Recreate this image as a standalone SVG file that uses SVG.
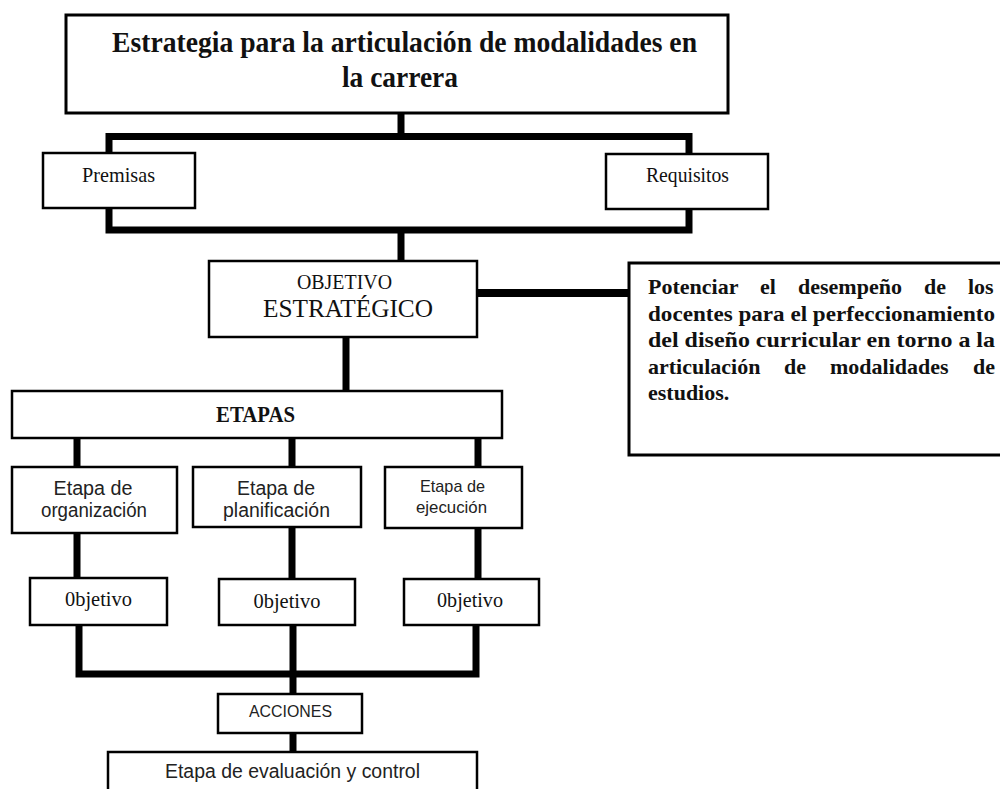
<svg xmlns="http://www.w3.org/2000/svg" width="1000" height="789" viewBox="0 0 1000 789">
<style>
.box{fill:#fff;stroke:#000;stroke-width:2.5}
.tbox{fill:#fff;stroke:#000;stroke-width:3}
.con{fill:none;stroke:#000;stroke-width:7;stroke-linejoin:miter;stroke-linecap:butt}
.serif{font-family:"Liberation Serif","Times New Roman",serif;fill:#111}
.sans{font-family:"Liberation Sans",Arial,sans-serif;fill:#222}
.b{font-weight:bold}
.m{text-anchor:middle}
.p{font-family:"Liberation Serif","Times New Roman",serif;font-weight:bold;font-size:22px;fill:#111}
.e{text-anchor:end}
</style>
<rect width="1000" height="789" fill="#fff"/>
<g id="connectors">
<path class="con" d="M401 113 V137"/>
<path class="con" d="M109 230 V136.5 H689 V230 Z"/>
<path class="con" d="M401 230 V262"/>
<path class="con" d="M346 337 V392"/>
<path class="con" style="stroke-width:8" d="M477 293 H630"/>
<path class="con" d="M77 438 V468 M292 438 V468 M478 438 V468"/>
<path class="con" d="M77 533 V579 M292 527 V580 M478 528 V580"/>
<path class="con" d="M79 625 V674 H476 V625"/>
<path class="con" d="M293 625 V695"/>
<path class="con" d="M293 733 V753"/>
</g>
<g id="title">
<rect class="tbox" x="66" y="15" width="662" height="98"/>
<text class="serif b m" x="404.5" y="52" font-size="30" textLength="585" lengthAdjust="spacingAndGlyphs">Estrategia para la articulación de modalidades en</text>
<text class="serif b m" x="400" y="87" font-size="30" textLength="116" lengthAdjust="spacingAndGlyphs">la carrera</text>
</g>
<g id="premisas">
<rect class="box" x="43" y="153" width="152" height="55"/>
<text class="serif m" x="118.5" y="182" font-size="21" textLength="73" lengthAdjust="spacingAndGlyphs">Premisas</text>
</g>
<g id="requisitos">
<rect class="box" x="606" y="154" width="162" height="55"/>
<text class="serif m" x="687.5" y="182" font-size="21" textLength="83" lengthAdjust="spacingAndGlyphs">Requisitos</text>
</g>
<g id="objetivo-estrategico">
<rect class="box" x="209" y="261" width="268" height="76"/>
<text class="serif m" x="344.5" y="289" font-size="21" textLength="95" lengthAdjust="spacingAndGlyphs">OBJETIVO</text>
<text class="serif m" x="348" y="317" font-size="25" textLength="170" lengthAdjust="spacingAndGlyphs">ESTRATÉGICO</text>
</g>
<g id="potenciar">
<rect class="tbox" x="629" y="263" width="380" height="192"/>
<text class="p" y="294"><tspan x="648">Potenciar</tspan><tspan x="760">el</tspan><tspan x="798">desempeño</tspan><tspan x="924">de</tspan><tspan x="968">los</tspan></text>
<text class="p" x="648" y="321" textLength="347" lengthAdjust="spacingAndGlyphs">docentes para el perfeccionamiento</text>
<text class="p" x="648" y="347" textLength="347" lengthAdjust="spacingAndGlyphs">del diseño curricular en torno a la</text>
<text class="p" y="374"><tspan x="648">articulación</tspan><tspan x="784">de</tspan><tspan x="830">modalidades</tspan><tspan x="973">de</tspan></text>
<text class="p" x="648" y="400">estudios.</text>
</g>
<g id="etapas">
<rect class="box" x="12" y="391" width="490" height="47"/>
<text class="serif b m" x="255.5" y="422" font-size="23" textLength="79" lengthAdjust="spacingAndGlyphs">ETAPAS</text>
</g>
<g id="etapa-organizacion">
<rect class="box" x="12" y="467" width="165" height="66"/>
<text class="sans m" x="93" y="495" font-size="20" textLength="79" lengthAdjust="spacingAndGlyphs">Etapa de</text>
<text class="sans m" x="94" y="517" font-size="20" textLength="106" lengthAdjust="spacingAndGlyphs">organización</text>
</g>
<g id="etapa-planificacion">
<rect class="box" x="193" y="467" width="168" height="60"/>
<text class="sans m" x="276" y="495" font-size="20" textLength="78" lengthAdjust="spacingAndGlyphs">Etapa de</text>
<text class="sans m" x="276.5" y="517" font-size="20" textLength="107" lengthAdjust="spacingAndGlyphs">planificación</text>
</g>
<g id="etapa-ejecucion">
<rect class="box" x="385" y="467" width="137" height="61"/>
<text class="sans m" x="452.5" y="492" font-size="17" textLength="65" lengthAdjust="spacingAndGlyphs">Etapa de</text>
<text class="sans m" x="451.5" y="513" font-size="17" textLength="71" lengthAdjust="spacingAndGlyphs">ejecución</text>
</g>
<g id="objetivo-1">
<rect class="box" x="30" y="578" width="137" height="47"/>
<text class="serif m" x="98.5" y="606" font-size="22" textLength="67" lengthAdjust="spacingAndGlyphs">0bjetivo</text>
</g>
<g id="objetivo-2">
<rect class="box" x="219" y="579" width="136" height="46"/>
<text class="serif m" x="287" y="608" font-size="22" textLength="67" lengthAdjust="spacingAndGlyphs">0bjetivo</text>
</g>
<g id="objetivo-3">
<rect class="box" x="404" y="579" width="135" height="46"/>
<text class="serif m" x="470" y="607" font-size="22" textLength="66" lengthAdjust="spacingAndGlyphs">0bjetivo</text>
</g>
<g id="acciones">
<rect class="box" x="218" y="694" width="144" height="39"/>
<text class="sans m" x="290.5" y="717" font-size="16" textLength="83" lengthAdjust="spacingAndGlyphs">ACCIONES</text>
</g>
<g id="evaluacion">
<rect class="box" x="108" y="752" width="369" height="60"/>
<text class="sans m" x="292.5" y="778" font-size="20" textLength="255" lengthAdjust="spacingAndGlyphs">Etapa de evaluación y control</text>
</g>
</svg>
